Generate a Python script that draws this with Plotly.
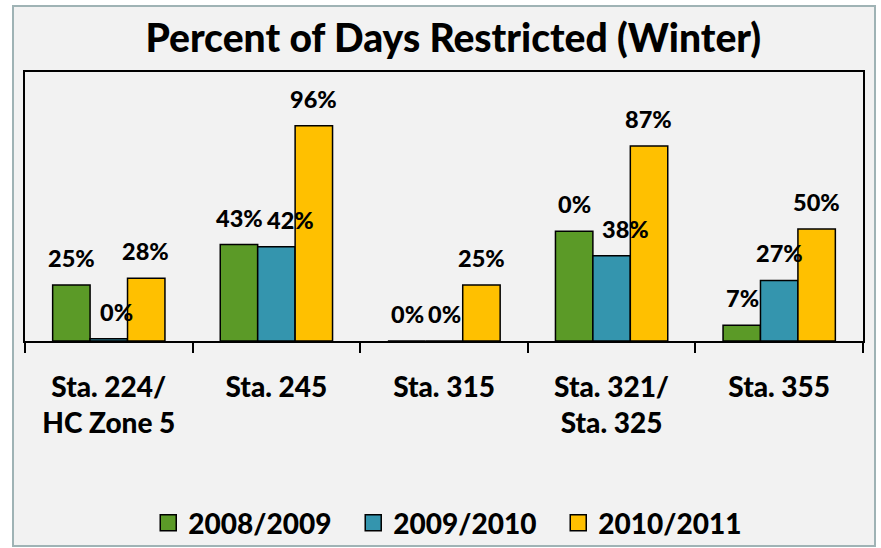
import plotly.graph_objects as go

# ---------------- data ----------------
categories = ["Sta. 224/<br>HC Zone 5", "Sta. 245", "Sta. 315", "Sta. 321/<br>Sta. 325", "Sta. 355"]
series_names = ["2008/2009", "2009/2010", "2010/2011"]
values_0809 = [25, 43, 0, 49, 7]
values_0910 = [1, 42, 0, 38, 27]
values_1011 = [28, 96, 25, 87, 50]
labels_0809 = ["25%", "43%", "0%", "0%", "7%"]
labels_0910 = ["0%", "42%", "0%", "38%", "27%"]
labels_1011 = ["28%", "96%", "25%", "87%", "50%"]

# ---------------- style ----------------
FONT = "Lato"
WEIGHT = 900
colors = ["#5b9a27", "#3495ae", "#ffc000"]
bar_shift = [-37, 0, 37]
extra_dx = {(1, 0): 8, (1, 1): 14, (1, 3): 14}

series_values = [values_0809, values_0910, values_1011]
series_labels = [labels_0809, labels_0910, labels_1011]

fig = go.Figure()
for name, vals, col in zip(series_names, series_values, colors):
    fig.add_trace(go.Bar(
        x=categories, y=vals, name=name, legendgroup=name, showlegend=False,
        marker=dict(color=col, line=dict(color="black", width=1.5)),
        hoverinfo="skip",
    ))
# legend keys (larger square swatches like the original)
for name, col in zip(series_names, colors):
    fig.add_trace(go.Scatter(
        x=[None], y=[None], name=name, legendgroup=name, mode="markers",
        marker=dict(symbol="square", size=16, color=col, line=dict(color="black", width=1.5)),
        hoverinfo="skip",
    ))

annotations = []
for s, (vals, labs) in enumerate(zip(series_values, series_labels)):
    for c, (v, lab) in enumerate(zip(vals, labs)):
        annotations.append(dict(
            x=categories[c], y=v, xref="x", yref="y",
            text=lab, showarrow=False,
            xshift=bar_shift[s] + extra_dx.get((s, c), 0),
            yshift=27, yanchor="middle", xanchor="center",
            font=dict(family=FONT, size=23.5, color="black", weight=WEIGHT),
        ))

W, H = 881, 548
L, R, T, B = 25, 18, 72, 207
pw, ph = W - L - R, H - T - B


def px_x(p):
    return (p - L) / pw


def px_y(p):
    return (H - B - p) / ph


fig.update_layout(
    width=W, height=H,
    margin=dict(l=L, r=R, t=T, b=B, pad=0),
    paper_bgcolor="white",
    plot_bgcolor="#f2f2f2",
    barmode="group", bargap=0.33, bargroupgap=0,
    title=dict(
        text="Percent of Days Restricted (Winter)",
        xref="paper", yref="container", x=0.511, y=1 - 38 / 548,
        xanchor="center", yanchor="middle",
        font=dict(family=FONT, size=39, color="black", weight=WEIGHT),
    ),
    showlegend=True,
    legend=dict(
        orientation="h", x=0.514, xanchor="center",
        yref="container", y=1 - 523 / 548, yanchor="middle",
        font=dict(family=FONT, size=28, color="black", weight=WEIGHT),
        bgcolor="rgba(0,0,0,0)", entrywidth=160, itemwidth=30,
    ),
    annotations=annotations,
    shapes=[dict(
        type="rect", xref="paper", yref="paper", layer="below",
        x0=px_x(13), x1=px_x(875), y0=px_y(546), y1=px_y(6),
        fillcolor="#f2f2f2", line=dict(color="#9fb3b5", width=2),
    )],
    xaxis=dict(
        showline=True, linecolor="black", linewidth=2, mirror=True,
        ticks="outside", tickson="boundaries", ticklen=10, tickcolor="black", tickwidth=1.5,
        ticklabelstandoff=20,
        tickfont=dict(family=FONT, size=28, color="black", weight=WEIGHT),
        showgrid=False, zeroline=False, fixedrange=True,
    ),
    yaxis=dict(
        range=[0, 120], showline=True, linecolor="black", linewidth=2, mirror=True,
        showticklabels=False, ticks="", showgrid=False, zeroline=False, fixedrange=True,
    ),
)

fig.write_html(
    "out.html",
    config={"displayModeBar": False},
    post_script="document.body.style.margin='0px';",
)
